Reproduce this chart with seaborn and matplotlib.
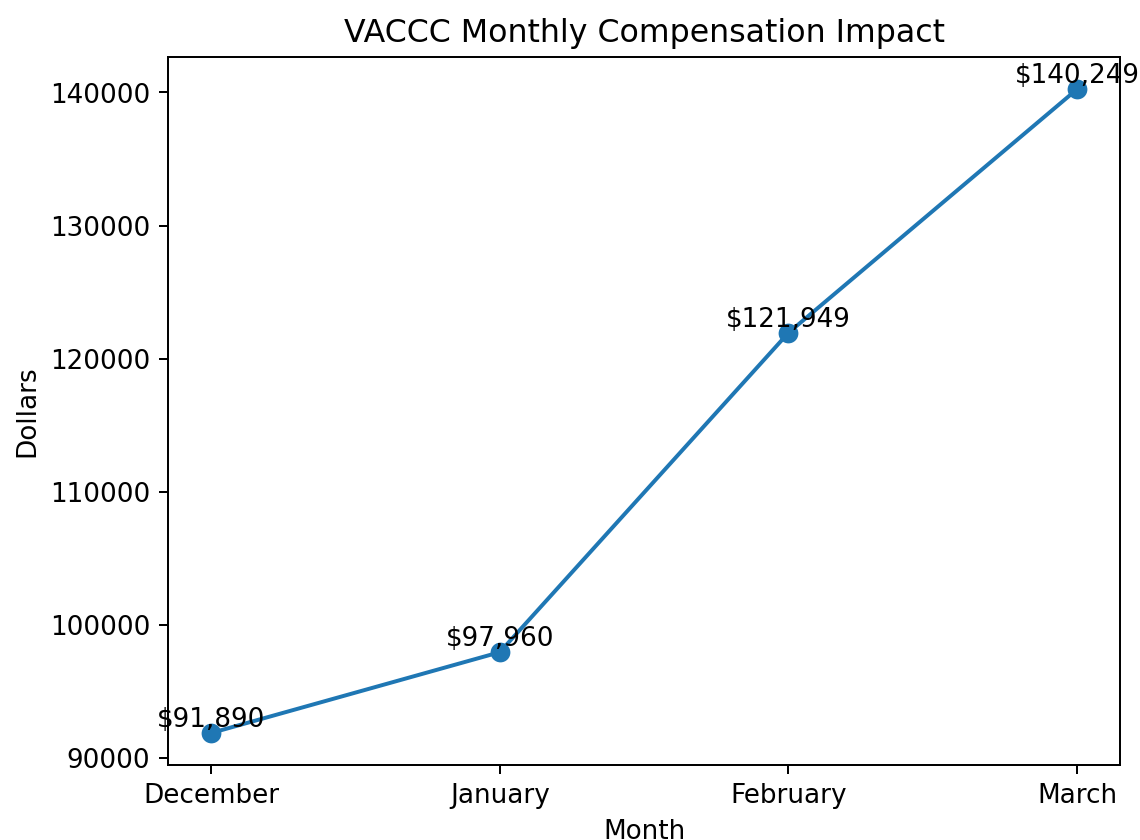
import matplotlib.pyplot as plt
import seaborn as sns
import pandas as pd

months = ["December", "January", "February", "March"]
dollars = [91890, 97960, 121949, 140249]

df = pd.DataFrame({"Month": months, "Dollars": dollars})

plt.rcParams["font.size"] = 10.6
plt.rcParams["axes.titlesize"] = 12.8

fig = plt.figure(figsize=(6.41, 4.72), dpi=178)
ax = fig.add_axes([0.147, 0.089, 0.835, 0.843])

sns.lineplot(data=df, x="Month", y="Dollars", marker="o", markersize=8,
             markeredgewidth=0, linewidth=1.6, color="#1f77b4", ax=ax)

for i, v in enumerate(dollars):
    ax.text(i, v, f"${v:,}", ha="center", va="bottom")

ax.set_title("VACCC Monthly Compensation Impact")
ax.set_xlabel("Month")
ax.set_ylabel("Dollars")

plt.savefig("out.png")
plt.close(fig)
